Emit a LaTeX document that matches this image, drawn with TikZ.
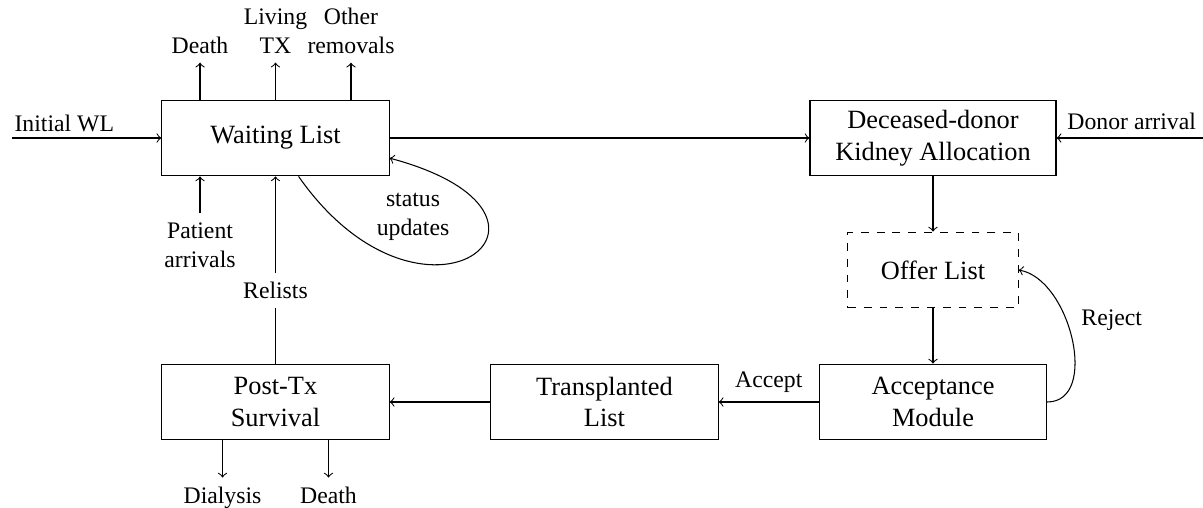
\documentclass[tikz,border=0pt]{standalone}
\usepackage{fontspec}
\setmainfont{Liberation Serif}
\begin{document}
\begin{tikzpicture}[
        box/.style={draw, align=center, minimum width=3.03cm, minimum height=1.01cm},
        lbl/.style={font=\small, align=center}
    ]

            \useasboundingbox (0, 0) rectangle (16.04, -6.773);

            \node (wl) at (3.673, -1.84) [box] {Waiting List};
            \node (ddka) at (12.44, -1.84) [box, minimum width=3.28cm] {Deceased-donor\\Kidney Allocation};
            \node (offer) at (12.44, -3.6) [box, dashed, minimum width=2.27cm] {Offer List};
            \node (accept) at (12.44, -5.36) [box] {Acceptance\\Module};
            \node (trans) at (8.06, -5.36) [box] {Transplanted\\List};
            \node (post) at (3.673, -5.36) [box] {Post-Tx\\Survival};

            \node (initwl) at (0.07, -1.756) [lbl, anchor=base west] {Initial WL};
            \node (donor) at (16.07, -1.733) [lbl, anchor=base east] {Donor arrival};
            \coordinate (wl-in) at (0.16, -1.84);
            \coordinate (donor-in) at (16.04, -1.84);

            \node (death1) at (2.667, -0.835) [lbl, anchor=south] {Death};
            \node (living) at (3.673, -0.835) [lbl, anchor=south] {Living\\TX};
            \node (other) at (4.68, -0.835) [lbl, anchor=south] {Other\\removals};
            \node (patient) at (2.667, -2.84) [lbl, anchor=north] {Patient\\arrivals};
            \node (status) at (5.507, -2.887) [lbl] {status\\updates};

            \node (dialysis) at (2.967, -6.367) [lbl, anchor=north] {Dialysis};
            \node (death2) at (4.38, -6.367) [lbl, anchor=north] {Death};

            \draw[->] (wl-in) -- (wl);
            \draw[->] (donor-in) -- (ddka);
            \draw[->] (wl) -- (ddka);

            \draw[->] (death1 |- wl.north) -- (death1);
            \draw[->] (living |- wl.north) -- (living);
            \draw[->] (other |- wl.north) -- (other);
            \draw[->] (patient) -- (patient |- wl.south);
            \draw[->] (wl.-59) .. controls +(-55:2.93) and +(-15:2.93) .. (wl.-10);

            \draw[->] (ddka) -- (offer);
            \draw[->] (offer) -- (accept);
            \draw[->] (accept.east) to[out=0, in=-10] node[lbl, above right] (reject) {Reject} (offer.east);

            \draw[->] (accept) -- node[lbl, above] (acc) {Accept} (trans);
            \draw[->] (trans) -- (post);
            \draw[->] (post) -- node[lbl, fill=white, pos=0.39] (relists) {Relists} (wl);

            \draw[->] (post.south -| dialysis) -- (dialysis);
            \draw[->] (post.south -| death2) -- (death2);

\end{tikzpicture}
\end{document}
